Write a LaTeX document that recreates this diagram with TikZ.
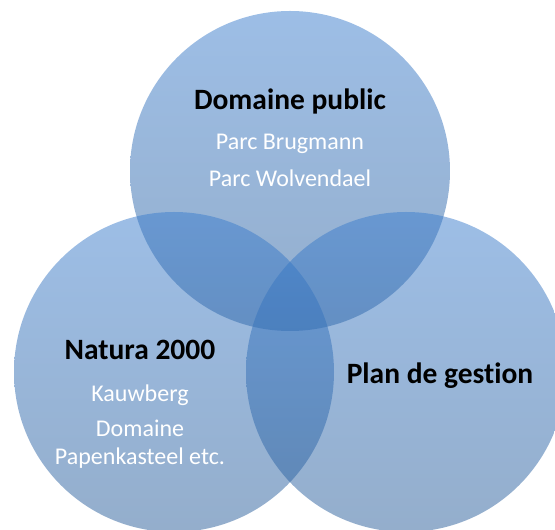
\documentclass[tikz,border=0pt]{standalone}
\usepackage{fontspec}
\setmainfont{Carlito}[Ligatures={NoCommon,NoRare}]
\definecolor{ctop}{RGB}{59,125,205}
\definecolor{cbot}{RGB}{41,93,153}
\tikzset{
  venn/.style={top color=ctop, bottom color=cbot, fill opacity=0.5},
  ttl/.style={anchor=base, text=black, font=\fontsize{29.5}{31}\selectfont\bfseries},
  sub/.style={anchor=base, text=white, font=\fontsize{24}{26}\selectfont}
}
\begin{document}
\begin{tikzpicture}[x=1pt,y=1pt]
\useasboundingbox (0,0) rectangle (555,530);
\begin{scope}
\clip (0,0) rectangle (555,530);
\shade[venn] (290,359) circle[radius=160];
\shade[venn] (174,158) circle[radius=160];
\shade[venn] (406,158) circle[radius=160];
\end{scope}
\node[ttl] (dp) at (290,420) {Domaine public};
\node[sub] (pb) at (290,380) {Parc Brugmann};
\node[sub] (pw) at (290,343) {Parc Wolvendael};
\node[ttl] (n2) at (140,170) {Natura 2000};
\node[sub] (kb) at (140,128) {Kauwberg};
\node[sub] (dm) at (140,93) {Domaine};
\node[sub] (pk) at (140,65) {Papenkasteel etc.};
\node[ttl] (pg) at (440,146) {Plan de gestion};
\end{tikzpicture}
\end{document}
